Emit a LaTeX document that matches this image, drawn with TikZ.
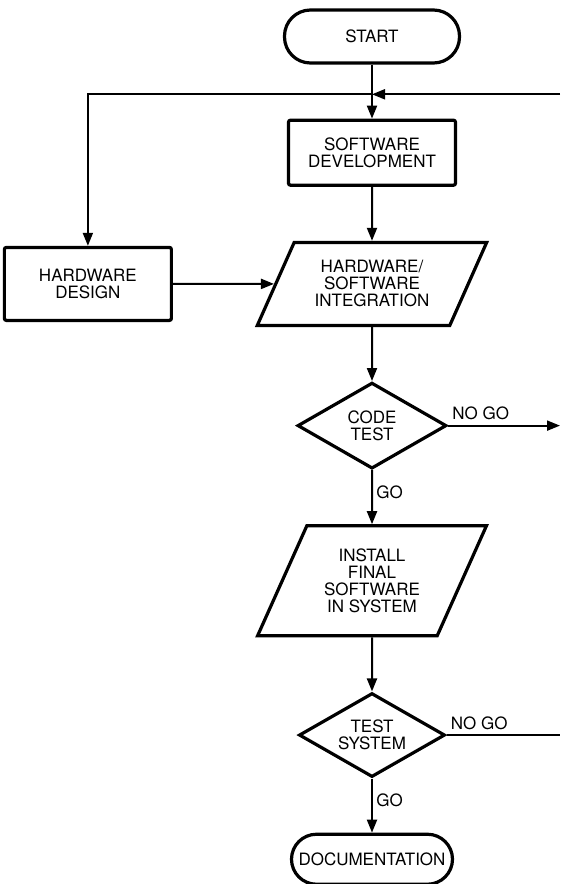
\documentclass[tikz,border=0pt]{standalone}
\usepackage{fontspec}
\setmainfont{TeX Gyre Heros}
\usetikzlibrary{arrows.meta,positioning,shapes.geometric,calc}

\begin{document}
\begin{tikzpicture}[
  node distance=54pt and 101pt,
  block/.style={draw, line width=3.2pt, align=center, inner sep=2pt, font=\fontsize{17}{17}\selectfont},
  terminal/.style={block, rounded corners=26pt, minimum width=175pt, minimum height=53pt},
  process/.style={block, rounded corners=2pt, minimum width=167pt},
  io/.style={block, trapezium, trapezium left angle=61, trapezium right angle=119, trapezium stretches=true},
  decision/.style={block, diamond, aspect=1.7, inner sep=0pt},
  lbl/.style={font=\fontsize{17}{17}\selectfont},
  flow/.style={-{Triangle[length=13pt,width=10pt]}, line width=2pt},
  plain/.style={line width=2pt},
]
\useasboundingbox (0,0) rectangle (560pt,-884pt);
\coordinate (edge) at (560pt,0);

% Main column
\node[terminal] (start) at (372pt,-36.5pt) {START};
\node[process, minimum height=65pt, below=of start] (swdev) {SOFTWARE\\DEVELOPMENT};
\node[io, minimum width=230pt, minimum height=83pt, below=of swdev] (integ) {HARDWARE/\\SOFTWARE\\INTEGRATION};
\node[decision, minimum width=149pt, minimum height=86pt, below=of integ] (codetest) {CODE\\TEST};
\node[io, minimum width=229pt, minimum height=110pt, below=of codetest] (install) {INSTALL\\FINAL\\SOFTWARE\\IN SYSTEM};
\node[decision, minimum width=146pt, minimum height=84pt, below=of install] (testsys) {TEST\\SYSTEM};
\node[terminal, minimum width=161pt, minimum height=50pt, rounded corners=25pt, below=of testsys] (doc) {DOCUMENTATION};

% Side branch
\node[process, minimum height=73pt, left=of integ] (hwdes) {HARDWARE\\DESIGN};

% Main flow
\draw[flow] (start) -- (swdev);
\draw[flow] (swdev) -- (integ);
\draw[flow] (hwdes) -- (integ);
\draw[flow] (integ) -- (codetest);
\draw[flow] (codetest) -- node[lbl, right, pos=0.4] {GO} (install);
\draw[flow] (install) -- (testsys);
\draw[flow] (testsys) -- node[lbl, right, pos=0.4] {GO} (doc);

% Loop back
\coordinate (fb) at ($(start.south)!0.55!(swdev.north)$);
\draw[flow] (fb -| edge) -- (fb);
\draw[flow] (fb) -| (hwdes);

% No go exits
\draw[flow] (codetest.east) -- node[lbl, pos=0, above right, yshift=1pt] {NO GO} (codetest.east -| edge);
\draw[plain] (testsys.east) -- node[lbl, pos=0, above right, yshift=1pt] {NO GO} (testsys.east -| edge);

\end{tikzpicture}
\end{document}
